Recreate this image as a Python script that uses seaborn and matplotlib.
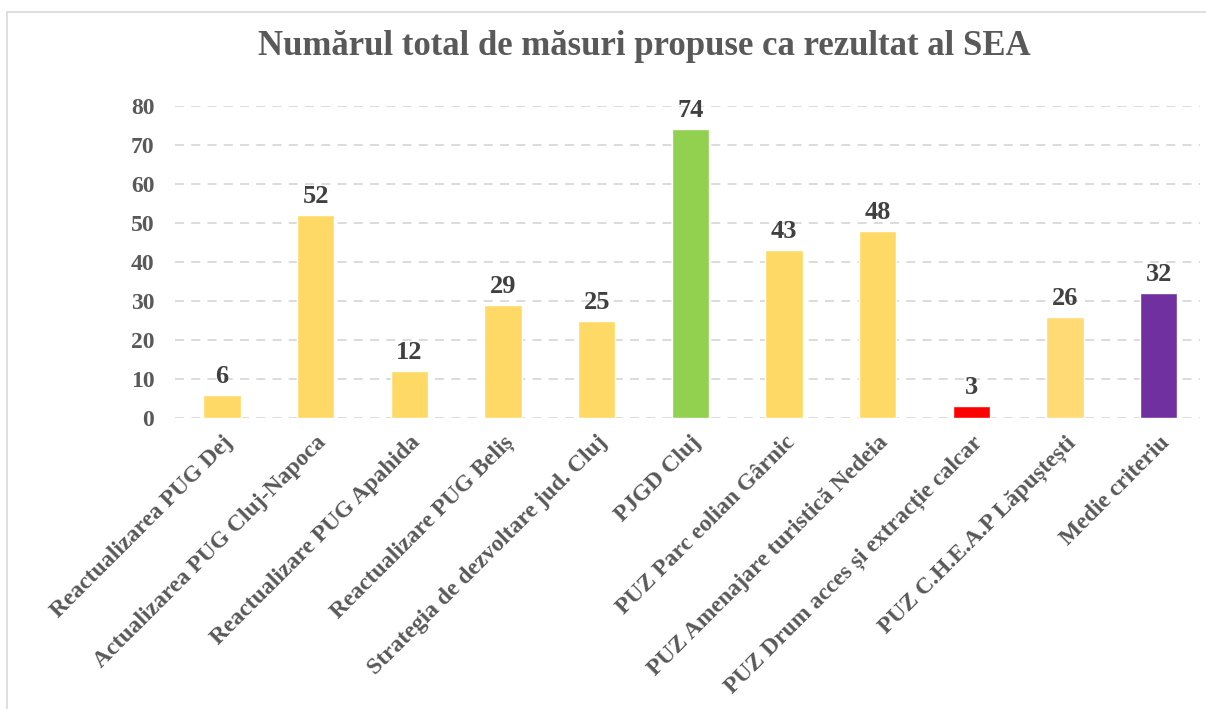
import matplotlib
matplotlib.use('Agg')
import matplotlib.pyplot as plt
import seaborn as sns
import pandas as pd
from matplotlib.patches import Rectangle

# Chart data
CATEGORIES = ['Reactualizarea PUG Dej', 'Actualizarea PUG Cluj-Napoca',
              'Reactualizare PUG Apahida', 'Reactualizare PUG Beliș',
              'Strategia de dezvoltare jud. Cluj', 'PJGD Cluj',
              'PUZ Parc eolian Gârnic', 'PUZ Amenajare turistică Nedeia',
              'PUZ Drum acces și extracție calcar',
              'PUZ C.H.E.A.P Lăpuștești', 'Medie criteriu']
VALUES = [6, 52, 12, 29, 25, 74, 43, 48, 3, 26, 32]
COLORS = ['#FFD966', '#FFD966', '#FFD966', '#FFD966', '#FFD966', '#92D050',
          '#FFD966', '#FFD966', '#FF0000', '#FFDA75', '#7030A0']
YTICKS = [0, 10, 20, 30, 40, 50, 60, 70, 80]

TEXT_GREY = '#595959'
LABEL_GREY = '#404040'

sns.set_style('white')
plt.rcParams['font.family'] = ['Liberation Serif', 'DejaVu Serif']


def main():
    df = pd.DataFrame({'Proiect': CATEGORIES, 'Masuri': VALUES})

    fig = plt.figure(figsize=(12.06, 7.09), dpi=100)
    ax = fig.add_axes([0.1452, 0.4104, 0.8498, 0.4401])

    sns.barplot(data=df, x='Proiect', y='Masuri', hue='Proiect',
                palette=COLORS, legend=False, width=0.4, saturation=1,
                ax=ax, zorder=3)

    # Value labels above bars
    for cont in ax.containers:
        ax.bar_label(cont, fontsize=19, weight='bold', color=LABEL_GREY,
                     padding=5)

    # Axes formatting
    ax.set_ylim(0, 80)
    ax.set_yticks(YTICKS)
    ax.set_xlim(-0.5, len(CATEGORIES) - 0.56)
    ax.yaxis.grid(True, linestyle=(0, (5, 4)), color='#D9D9D9',
                  linewidth=1.3, zorder=0)
    ax.set_axisbelow(True)
    for side in ['top', 'right', 'left', 'bottom']:
        ax.spines[side].set_visible(False)
    ax.set_xlabel('')
    ax.set_ylabel('')
    ax.tick_params(axis='both', length=0)
    ax.tick_params(axis='y', labelsize=17, labelcolor=TEXT_GREY, pad=15)
    ax.tick_params(axis='x', labelsize=17, labelcolor=TEXT_GREY, pad=10)
    for lbl in ax.get_yticklabels():
        lbl.set_fontweight('bold')
    for lbl in ax.get_xticklabels():
        lbl.set_fontweight('bold')
        lbl.set_rotation(45)
        lbl.set_ha('right')
        lbl.set_rotation_mode('anchor')

    fig.suptitle('Numărul total de măsuri propuse ca rezultat al SEA',
                 x=0.534, y=0.957, fontsize=25, weight='bold', color=TEXT_GREY)

    # Light border around the chart area (open at right and bottom)
    fig.patches.append(Rectangle((0.0058, -0.02), 1.02, 1.003,
                                 transform=fig.transFigure, fill=False,
                                 edgecolor='#D9D9D9', linewidth=1.2))

    fig.savefig('out.png', dpi=100, facecolor='white')
    plt.close(fig)


if __name__ == '__main__':
    main()
